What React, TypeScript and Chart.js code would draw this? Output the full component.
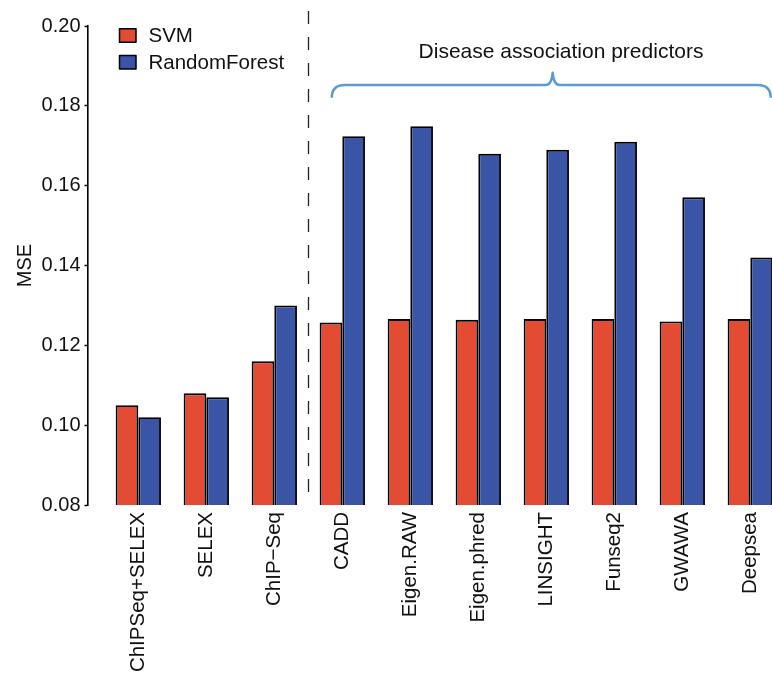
import React, { useEffect, useRef } from 'react';
import { Chart, registerables } from 'chart.js';

Chart.register(...registerables);

// ---- data ----
const categories = [
  'ChIPSeq+SELEX',
  'SELEX',
  'ChIP\u2212Seq',
  'CADD',
  'Eigen.RAW',
  'Eigen.phred',
  'LINSIGHT',
  'Funseq2',
  'GWAWA',
  'Deepsea',
];
const svmValues = [0.105, 0.108, 0.116, 0.1257, 0.1266, 0.1264, 0.1266, 0.1266, 0.126, 0.1266];
const rfValues = [0.102, 0.107, 0.13, 0.1724, 0.1749, 0.168, 0.169, 0.171, 0.1571, 0.142];
const yTickValues = [0.08, 0.1, 0.12, 0.14, 0.16, 0.18, 0.2];
const seriesNames = ['SVM', 'RandomForest'];
const seriesColors = ['#E34B33', '#3A55A5'];
const axisTitle = 'MSE';
const groupLabel = 'Disease association predictors';

// annotation anchors in data coordinates
const separatorX = 2.5;
const braceStartX = 2.845;
const braceEndX = 9.3;
const braceMidX = 6.094;
const braceLabelX = 6.216;
const braceFootY = 0.182;
const braceBarY = 0.1852;
const braceTipY = 0.1883;
const braceLabelY = 0.192;

const FONT = "'Liberation Sans', Arial, Helvetica, sans-serif";

const overlayPlugin = {
  id: 'overlay',
  afterDatasetsDraw(chart: any) {
    const { ctx, chartArea, scales } = chart;
    const xs = scales.x;
    const ys = scales.y;
    ctx.save();

    // dashed separator
    const sx = Math.round(xs.getPixelForValue(separatorX)) + 0.5;
    ctx.strokeStyle = '#222';
    ctx.lineWidth = 1.3;
    ctx.setLineDash([13, 13]);
    ctx.beginPath();
    ctx.moveTo(sx, 11);
    ctx.lineTo(sx, chartArea.bottom);
    ctx.stroke();
    ctx.setLineDash([]);

    // brace
    const xl = xs.getPixelForValue(braceStartX);
    const xr = xs.getPixelForValue(braceEndX);
    const xm = xs.getPixelForValue(braceMidX);
    const yf = ys.getPixelForValue(braceFootY);
    const yb = ys.getPixelForValue(braceBarY);
    const yt = ys.getPixelForValue(braceTipY);
    const r = 13;
    ctx.strokeStyle = '#5B9BD5';
    ctx.lineWidth = 2.5;
    ctx.lineJoin = 'round';
    ctx.lineCap = 'butt';
    ctx.beginPath();
    ctx.moveTo(xl, yf);
    ctx.quadraticCurveTo(xl, yb, xl + r, yb);
    ctx.lineTo(xm - 7, yb);
    ctx.quadraticCurveTo(xm - 1, yb, xm, yt);
    ctx.quadraticCurveTo(xm + 1, yb, xm + 7, yb);
    ctx.lineTo(xr - r, yb);
    ctx.quadraticCurveTo(xr, yb, xr, yf);
    ctx.stroke();

    // group label
    ctx.fillStyle = '#111';
    ctx.font = `21px ${FONT}`;
    ctx.textAlign = 'center';
    ctx.textBaseline = 'alphabetic';
    ctx.fillText(groupLabel, xs.getPixelForValue(braceLabelX), ys.getPixelForValue(braceLabelY));

    // legend
    const lx = chartArea.left + 31.5;
    let ly = chartArea.top + 2.8;
    chart.data.datasets.forEach((ds: any) => {
      ctx.fillStyle = ds.backgroundColor;
      ctx.fillRect(lx, ly, 16.5, 13.5);
      ctx.strokeStyle = '#000';
      ctx.lineWidth = 1.5;
      ctx.strokeRect(lx, ly, 16.5, 13.5);
      ctx.fillStyle = '#111';
      ctx.textAlign = 'left';
      ctx.textBaseline = 'middle';
      ctx.font = `20.5px ${FONT}`;
      ctx.fillText(ds.label, lx + 29, ly + 7.5);
      ly += 26.7;
    });

    ctx.restore();
  },
};

export default function App() {
  const canvasRef = useRef<HTMLCanvasElement | null>(null);

  useEffect(() => {
    if (!canvasRef.current) return;
    Chart.defaults.font.family = FONT;
    Chart.defaults.color = '#111';

    const chart = new Chart(canvasRef.current, {
      type: 'bar',
      data: {
        datasets: [
          {
            label: seriesNames[0],
            data: categories.map((_, i) => ({ x: i, y: svmValues[i] })),
            backgroundColor: seriesColors[0],
            borderColor: '#000',
            borderWidth: 1.9,
          },
          {
            label: seriesNames[1],
            data: categories.map((_, i) => ({ x: i, y: rfValues[i] })),
            backgroundColor: seriesColors[1],
            borderColor: '#000',
            borderWidth: 1.9,
          },
        ],
      },
      options: {
        animation: false,
        responsive: false,
        devicePixelRatio: 1,
        layout: { padding: { top: 26, right: 0, bottom: 0, left: 0 } },
        datasets: {
          bar: { categoryPercentage: 2 / 3, barPercentage: 1 },
        },
        plugins: {
          legend: { display: false },
          tooltip: { enabled: false },
        },
        scales: {
          x: {
            type: 'linear',
            offset: false,
            min: (88 - 138.3) / 68,
            max: (772 - 138.3) / 68,
            grid: { display: false, offset: false },
            border: { display: false },
            afterBuildTicks: (s: any) => {
              s.ticks = categories.map((_, i) => ({ value: i }));
            },
            afterFit: (s: any) => {
              s.height = 174;
              s.paddingLeft = 0;
              s.paddingRight = 0;
            },
            ticks: {
              autoSkip: false,
              minRotation: 90,
              maxRotation: 90,
              padding: -1,
              color: '#111',
              font: { size: 20.5 },
              callback: (v: any) => categories[v] ?? '',
            },
          },
          y: {
            type: 'linear',
            min: yTickValues[0],
            max: yTickValues[yTickValues.length - 1],
            afterBuildTicks: (s: any) => {
              s.ticks = yTickValues.map((v) => ({ value: v }));
            },
            afterFit: (s: any) => {
              s.width = 88;
            },
            grid: {
              display: true,
              drawOnChartArea: false,
              drawTicks: true,
              tickLength: 3.5,
              tickWidth: 1.5,
              tickColor: '#000',
            },
            border: { display: true, color: '#000', width: 1.6 },
            ticks: {
              padding: 4,
              color: '#111',
              font: { size: 20 },
              callback: (v: any) => Number(v).toFixed(2),
            },
            title: {
              display: true,
              text: axisTitle,
              color: '#111',
              font: { size: 20 },
              padding: { top: 13, bottom: 0 },
            },
          },
        },
      },
      plugins: [overlayPlugin],
    });

    return () => chart.destroy();
  }, []);

  return (
    <div style={{ position: 'absolute', left: 0, top: 0, width: 772, height: 679, overflow: 'hidden', background: '#fff' }}>
      <canvas ref={canvasRef} width={772} height={679} style={{ display: 'block' }} />
    </div>
  );
}
